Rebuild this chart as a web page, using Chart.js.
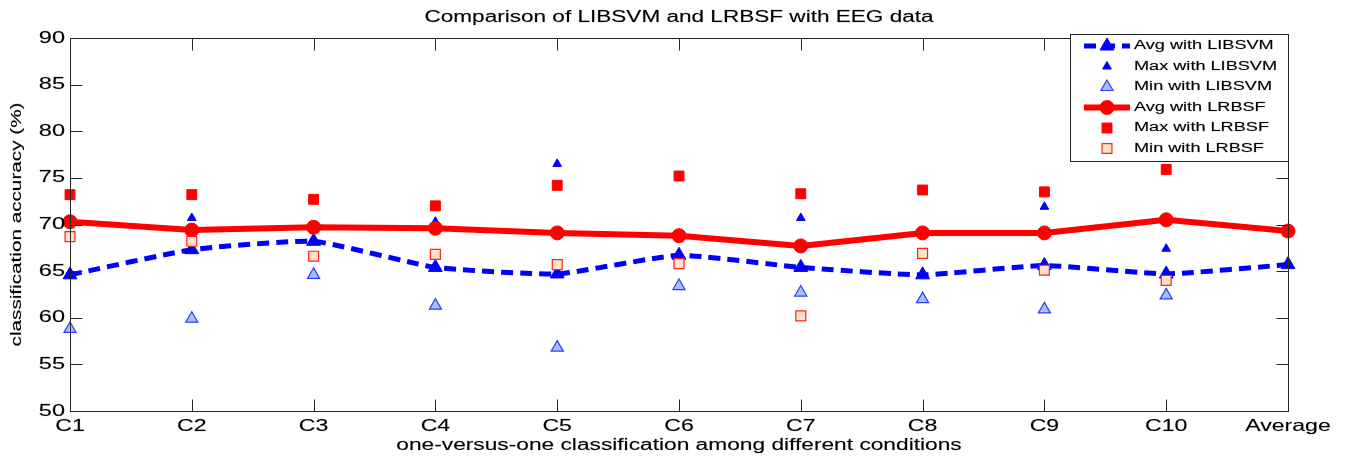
<!DOCTYPE html>
<html>
<head>
<meta charset="utf-8">
<script src="https://cdn.jsdelivr.net/npm/chart.js@4.4.0/dist/chart.umd.min.js"></script>
<style>
    html, body { margin: 0; padding: 0; background: #fff; }
    #wrap { width: 1347px; height: 459px; position: relative; }
</style>
</head>
<body>
<div id="wrap"><canvas id="chart" width="1347" height="459"></canvas></div>
<script>
// =====================
// DATOS
// =====================
const categories = ["C1", "C2", "C3", "C4", "C5", "C6", "C7", "C8", "C9", "C10", "Average"];
const yTicks = [50, 55, 60, 65, 70, 75, 80, 85, 90];

const avgLibsvm = [64.6, 67.3, 68.2, 65.4, 64.7, 66.7, 65.4, 64.6, 65.6, 64.7, 65.7];
const maxLibsvm = [73.0, 70.7, 68.4, 70.3, 76.5, 69.0, 70.7, 66.7, 71.9, 67.4, null];
const minLibsvm = [58.8, 59.9, 64.6, 61.3, 56.8, 63.4, 62.7, 62.0, 60.9, 62.4, null];

const avgLrbsf = [70.3, 69.4, 69.7, 69.6, 69.1, 68.8, 67.7, 69.1, 69.1, 70.5, 69.3];
const maxLrbsf = [73.2, 73.2, 72.7, 72.0, 74.2, 75.2, 73.3, 73.7, 73.5, 75.9, null];
const minLrbsf = [68.7, 68.2, 66.6, 66.8, 65.7, 65.8, 60.2, 66.9, 65.1, 64.0, null];

const titleText = "Comparison of LIBSVM and LRBSF with EEG data";
const xTitle = "one-versus-one classification among different conditions";
const yTitle = "classification accuracy (%)";

const FONT = '"Liberation Sans", Arial, sans-serif';

// texto ancho tipo MATLAB
function drawText(ctx, text, x, y, size, sx, align, angle) {
    ctx.save();
    ctx.translate(x, y);
    if (angle) ctx.rotate(angle);
    ctx.scale(sx, 1);
    ctx.font = size + "px " + FONT;
    ctx.textAlign = align || "center";
    ctx.textBaseline = "middle";
    ctx.fillStyle = "#000";
    ctx.strokeStyle = "rgba(0,0,0,0.35)";
    ctx.lineWidth = 0.4;
    ctx.fillText(text, 0, 0);
    ctx.strokeText(text, 0, 0);
    ctx.restore();
}

// =====================
// EJES (caja + ticks hacia dentro + textos)
// =====================
const matlabAxes = {
    id: "matlabAxes",
    afterDatasetsDraw(chart) {
        const { ctx, chartArea: a, scales: { x, y } } = chart;
        const L = Math.round(a.left) + 0.5;
        const R = Math.round(a.right) + 0.5;
        const T = Math.round(a.top) + 0.5;
        const B = Math.round(a.bottom) + 0.5;
        const tick = 12;

        ctx.save();
        ctx.strokeStyle = "#262626";
        ctx.lineWidth = 1;
        ctx.strokeRect(L, T, R - L, B - T);

        ctx.beginPath();
        categories.forEach((c, i) => {
            const px = Math.round(x.getPixelForValue(i)) + 0.5;
            ctx.moveTo(px, B); ctx.lineTo(px, B - tick);
            ctx.moveTo(px, T); ctx.lineTo(px, T + tick);
        });
        yTicks.forEach(v => {
            const py = Math.round(y.getPixelForValue(v)) + 0.5;
            ctx.moveTo(L, py); ctx.lineTo(L + tick, py);
            ctx.moveTo(R, py); ctx.lineTo(R - tick, py);
        });
        ctx.stroke();
        ctx.restore();

        categories.forEach((c, i) => {
            drawText(ctx, c, x.getPixelForValue(i), a.bottom + 15, 16.5, 1.4, "center");
        });
        yTicks.forEach(v => {
            drawText(ctx, String(v), a.left - 5, y.getPixelForValue(v), 16.5, 1.43, "right");
        });

        drawText(ctx, titleText, (a.left + a.right) / 2, 18, 16, 1.41, "center");
        drawText(ctx, xTitle, (a.left + a.right) / 2, 446, 16, 1.42, "center");
        drawText(ctx, yTitle, 17, (a.top + a.bottom) / 2, 15, 1.38, "center", -Math.PI / 2);
    },

    // leyenda dentro del area, arriba a la derecha
    afterDraw(chart) {
        const { ctx, chartArea: a } = chart;
        const boxL = 1070.5, boxT = 34.5, boxR = Math.round(a.right) + 0.5, boxB = 161.5;
        ctx.save();
        ctx.fillStyle = "#fff";
        ctx.fillRect(boxL, boxT, boxR - boxL, boxB - boxT);
        ctx.strokeStyle = "#262626";
        ctx.lineWidth = 1;
        ctx.strokeRect(boxL, boxT, boxR - boxL, boxB - boxT);
        ctx.restore();

        chart.data.datasets.forEach((ds, i) => {
            const cy = 46 + i * 20.5;
            const cx = 1107;
            ctx.save();
            if (ds.showLine !== false) {
                ctx.strokeStyle = ds.borderColor;
                ctx.lineWidth = ds.borderWidth;
                ctx.setLineDash(ds.borderDash || []);
                ctx.beginPath();
                ctx.moveTo(1084, cy);
                ctx.lineTo(1130, cy);
                ctx.stroke();
                ctx.setLineDash([]);
            }
            ctx.fillStyle = ds.pointBackgroundColor;
            ctx.strokeStyle = ds.pointBorderColor;
            ctx.lineWidth = ds.pointBorderWidth;
            Chart.helpers.drawPoint(ctx, {
                pointStyle: ds.pointStyle,
                radius: ds.pointRadius,
                rotation: 0,
                borderWidth: ds.pointBorderWidth
            }, cx, cy);
            ctx.restore();
            drawText(ctx, ds.label, 1134, cy, 12.5, 1.45, "left");
        });
    }
};

// =====================
// GRAFICO
// =====================
new Chart(document.getElementById("chart"), {
    type: "line",
    data: {
        labels: categories,
        datasets: [
            {
                label: "Avg with LIBSVM",
                data: avgLibsvm,
                borderColor: "#0000ff",
                borderWidth: 5,
                borderDash: [12, 7],
                tension: 0.15,
                pointStyle: "triangle",
                pointRadius: 8,
                pointBackgroundColor: "#0000ff",
                pointBorderColor: "#0000ff",
                pointBorderWidth: 1,
                order: 3
            },
            {
                label: "Max with LIBSVM",
                data: maxLibsvm,
                showLine: false,
                borderColor: "#0000ff",
                pointStyle: "triangle",
                pointRadius: 5,
                pointBackgroundColor: "#0000ff",
                pointBorderColor: "#0000ff",
                pointBorderWidth: 1,
                order: 4
            },
            {
                label: "Min with LIBSVM",
                data: minLibsvm,
                showLine: false,
                borderColor: "#0000ff",
                pointStyle: "triangle",
                pointRadius: 7,
                pointBackgroundColor: "#aabfff",
                pointBorderColor: "#2a3cff",
                pointBorderWidth: 1.2,
                order: 5
            },
            {
                label: "Avg with LRBSF",
                data: avgLrbsf,
                borderColor: "#ff0000",
                borderWidth: 6,
                tension: 0,
                pointStyle: "circle",
                pointRadius: 7,
                pointBackgroundColor: "#ff0000",
                pointBorderColor: "#ff0000",
                pointBorderWidth: 1,
                order: 2
            },
            {
                label: "Max with LRBSF",
                data: maxLrbsf,
                showLine: false,
                borderColor: "#ff0000",
                pointStyle: "rect",
                pointRadius: 7,
                pointBackgroundColor: "#ff0000",
                pointBorderColor: "#ff0000",
                pointBorderWidth: 1,
                order: 1
            },
            {
                label: "Min with LRBSF",
                data: minLrbsf,
                showLine: false,
                borderColor: "#ff0000",
                pointStyle: "rect",
                pointRadius: 7,
                pointBackgroundColor: "#fde4c6",
                pointBorderColor: "#ff2020",
                pointBorderWidth: 1.2,
                order: 0
            }
        ]
    },
    options: {
        responsive: false,
        animation: false,
        events: [],
        clip: false,
        layout: {
            padding: { left: 70, right: 59, top: 38, bottom: 48 }
        },
        plugins: {
            legend: { display: false },
            tooltip: { enabled: false },
            title: { display: false }
        },
        scales: {
            x: {
                type: "category",
                display: false,
                offset: false
            },
            y: {
                display: false,
                min: 50,
                max: 90
            }
        }
    },
    plugins: [matlabAxes]
});
</script>
</body>
</html>
